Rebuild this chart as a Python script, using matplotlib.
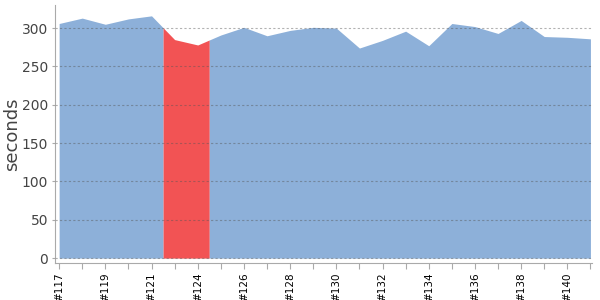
import numpy as np
import matplotlib
matplotlib.use("Agg")
import matplotlib.pyplot as plt

builds = ["#117", "#118", "#119", "#120", "#121", "#122", "#124", "#125", "#126",
          "#127", "#128", "#129", "#130", "#131", "#132", "#133", "#134", "#135",
          "#136", "#137", "#138", "#139", "#140", "#141"]
durations = [306, 313, 305, 312, 316, 285, 278, 291, 301, 290, 297, 301, 300,
             274, 284, 296, 277, 306, 302, 293, 310, 289, 288, 286]
status = ["ok", "ok", "ok", "ok", "ok", "fail", "fail", "ok", "ok", "ok", "ok", "ok",
          "ok", "ok", "ok", "ok", "ok", "ok", "ok", "ok", "ok", "ok", "ok", "ok"]
colors = {"ok": "#8DB0D9", "fail": "#F25354"}

fig = plt.figure(figsize=(6, 3), dpi=100)
ax = fig.add_axes([0.092, 0.123, 0.894, 0.86])

x = np.arange(len(builds))
y = np.array(durations, dtype=float)
n = len(x)

# group contiguous runs of equal status
runs = []
start = 0
for i in range(1, n + 1):
    if i == n or status[i] != status[start]:
        runs.append((start, i - 1, status[start]))
        start = i
for a, b, st in runs:
    lo = max(a - 0.5, 0)
    hi = min(b + 0.5, n - 1)
    xs = [lo] + [v for v in x if lo < v < hi] + [hi]
    ys = np.interp(xs, x, y)
    ax.fill_between(xs, 0, ys, color=colors[st], linewidth=0, zorder=2,
                    antialiased=True)

ax.set_xlim(-0.17, n - 1 + 0.05)
ax.set_ylim(-6.5, 330)
ax.set_yticks(range(0, 301, 50))
ax.yaxis.grid(True, linestyle=(0, (2, 2)), color="#555555", alpha=0.45,
              linewidth=0.8, zorder=3)
ax.set_axisbelow(False)

ax.set_xticks(x)
ax.set_xticklabels([b if i % 2 == 0 else "" for i, b in enumerate(builds)],
                   rotation=90, fontsize=7.5, color="black")
ax.tick_params(axis="x", length=4, color="#aaaaaa", pad=3)
ax.tick_params(axis="y", length=2, color="#aaaaaa", labelsize=10,
               labelcolor="#444444", pad=3)
for s in ["top", "right"]:
    ax.spines[s].set_visible(False)
for s in ["left", "bottom"]:
    ax.spines[s].set_color("#aaaaaa")
ax.set_ylabel("seconds", fontsize=13, color="#444444")
ax.yaxis.set_label_coords(-0.064, 0.5)

fig.savefig("out.png", dpi=100)
